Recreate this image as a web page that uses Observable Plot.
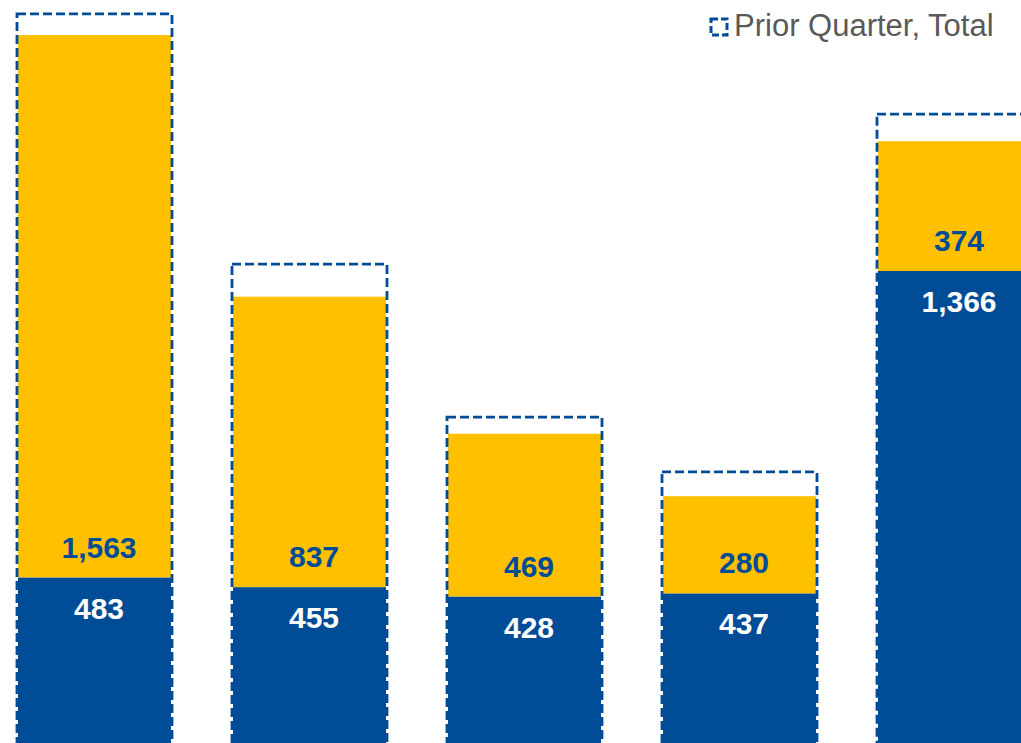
<!DOCTYPE html>
<html>
<head>
<meta charset="utf-8">
<script src="https://cdn.jsdelivr.net/npm/d3@7"></script>
<script src="https://cdn.jsdelivr.net/npm/@observablehq/plot@0.6"></script>
<style>
  html, body { margin: 0; padding: 0; background: #fff; overflow: hidden; }
  #wrap { position: relative; width: 1021px; height: 743px; overflow: hidden; }
  #legend { position: absolute; left: 709px; top: 11px; display: flex; align-items: center;
    font-family: "Liberation Sans", Arial, sans-serif; font-size: 31px; color: #595959; line-height: 30px; white-space: nowrap; }
  #legend svg { margin-right: 5px; margin-top: 2px; }
</style>
</head>
<body>
<div id="wrap">
  <div id="chart"></div>
  <div id="legend">
    <svg width="20" height="20"><rect x="2" y="2" width="16" height="16" fill="none" stroke="#004C97" stroke-width="3" stroke-dasharray="7,3"></rect></svg>
    <span>Prior Quarter, Total</span>
  </div>
</div>
<script>
const categories = ["Bar 1", "Bar 2", "Bar 3", "Bar 4", "Bar 5"];
const blueValues = [483, 455, 428, 437, 1366];
const yellowValues = [1563, 837, 469, 280, 374];
const priorTotals = [2107, 1386, 945, 787, 1818];

const BLUE = "#004C97";
const YELLOW = "#FFC000";

const stacked = [];
categories.forEach((c, i) => {
  stacked.push({cat: c, series: "Base", value: blueValues[i]});
  stacked.push({cat: c, series: "Top", value: yellowValues[i]});
});
const rows = categories.map((c, i) => ({cat: c, blue: blueValues[i], yellow: yellowValues[i], prior: priorTotals[i]}));
const fmt = d3.format(",");

const chart = Plot.plot({
  width: 1021,
  height: 745,
  marginTop: 0, marginBottom: 0, marginLeft: 0, marginRight: 0,
  style: {fontFamily: "'Liberation Sans', Arial, sans-serif", background: "#fff"},
  x: {domain: categories, range: [16, 1033], paddingInner: 0.289, paddingOuter: 0, axis: null},
  y: {domain: [0, 2147], axis: null},
  color: {domain: ["Base", "Top"], range: [BLUE, YELLOW]},
  marks: [
    Plot.barY(stacked, {x: "cat", y: "value", fill: "series", order: null}),
    Plot.barY(rows, {x: "cat", y1: 0, y2: "prior", fill: "none", stroke: BLUE, strokeWidth: 2.8, strokeDasharray: "9,4", insetLeft: -1, insetRight: -1}),
    Plot.text(rows, {x: "cat", y: "blue", text: d => fmt(d.yellow), dx: 4, dy: -30, fill: BLUE, fontSize: 30, fontWeight: "bold"}),
    Plot.text(rows, {x: "cat", y: "blue", text: d => fmt(d.blue), dx: 4, dy: 31, fill: "#fff", fontSize: 30, fontWeight: "bold"})
  ]
});
document.getElementById("chart").appendChild(chart);
</script>
</body>
</html>
